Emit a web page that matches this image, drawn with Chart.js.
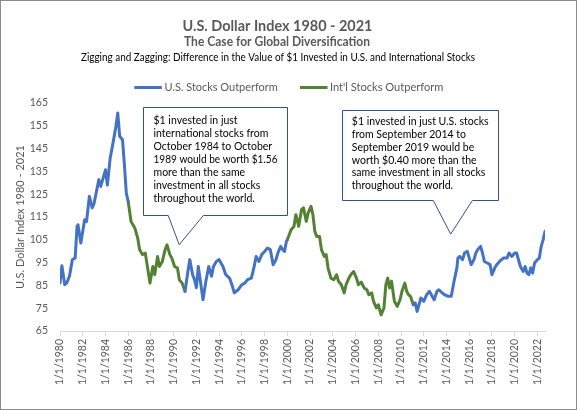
<!DOCTYPE html>
<html>
<head>
<meta charset="utf-8">
<script src="https://cdn.jsdelivr.net/npm/chart.js@4"></script>
<style>
html,body{margin:0;padding:0;background:#fff;}
#wrap{width:577px;height:410px;position:relative;}
canvas{display:block;}
</style>
</head>
<body>
<div id="wrap"><canvas id="c" width="577" height="410"></canvas></div>
<script>
// ---------- DATA ----------
const chartTitle = "U.S. Dollar Index 1980 - 2021";
const chartSubtitle = "The Case for Global Diversification";
const chartSubtitle2 = "Zigging and Zagging: Difference in the Value of $1 Invested in U.S. and International Stocks";
const seriesNames = ["U.S. Stocks Outperform", "Int'l Stocks Outperform"];
const yAxisTitle = "U.S. Dollar Index 1980 - 2021";

const dates = [
"1980-01","1980-03","1980-06","1980-08","1980-11","1981-02","1981-05","1981-07","1981-08","1981-11",
"1982-03","1982-05","1982-08","1982-11","1983-01","1983-06","1983-08","1984-01","1984-03","1984-06",
"1984-09","1984-12","1985-02","1985-04","1985-07","1985-09","1985-11","1986-01","1986-04","1986-08",
"1986-11","1987-01","1987-04","1987-07","1987-09","1987-12","1988-03","1988-05","1988-08","1988-10",
"1989-01","1989-04","1989-06","1989-09","1989-11","1990-02","1990-05","1990-07","1990-10","1991-01",
"1991-04","1991-06","1991-09","1991-11","1992-01","1992-03","1992-08","1992-11","1993-02","1993-05",
"1993-07","1993-10","1994-01","1994-05","1994-08","1994-12","1995-03","1995-05","1995-09","1996-01",
"1996-04","1996-07","1996-11","1997-02","1997-04","1997-07","1997-10","1998-01","1998-04","1998-07",
"1998-10","1999-01","1999-03","1999-06","1999-08","1999-10","1999-12","2000-01","2000-03","2000-05",
"2000-08","2000-10","2001-01","2001-04","2001-06","2001-09","2001-11","2002-02","2002-04","2002-06",
"2002-08","2002-11","2003-01","2003-04","2003-06","2003-08","2003-11","2004-02","2004-05","2004-07",
"2004-10","2005-01","2005-03","2005-06","2005-08","2005-11","2006-02","2006-04","2006-07","2006-10",
"2007-01","2007-03","2007-06","2007-08","2007-11","2008-01","2008-04","2008-07","2008-09","2008-11",
"2009-01","2009-03","2009-06","2009-09","2009-12","2010-02","2010-05","2010-07","2010-09","2010-11",
"2011-02","2011-04","2011-06","2011-08","2011-10","2012-01","2012-04","2012-07","2012-09","2012-12",
"2013-03","2013-05","2013-08","2013-11","2014-03","2014-06","2014-09","2014-12","2015-01","2015-03",
"2015-06","2015-08","2015-11","2016-03","2016-06","2016-08","2016-10","2017-01","2017-03","2017-05",
"2017-08","2017-11","2018-01","2018-04","2018-06","2018-09","2019-01","2019-03","2019-05","2019-07",
"2019-10","2020-01","2020-03","2020-07","2020-10","2020-12","2021-02","2021-04","2021-06","2021-08",
"2021-10","2022-01","2022-03","2022-05","2022-07","2022-09"
];

const indexValues = [
86,93.6,85.3,86,89,96.3,97,110.9,111.6,103.6,
113.8,113,124,119,121,131.4,128.4,135.7,129,140.9,
147.5,154.7,160.6,150.4,148.9,137.9,125.5,121.8,113,110.2,
105.8,100.7,98.5,99.2,94,86,93.3,89.7,97.7,93.3,
95.5,100.7,102.8,98.5,97,93.3,92.6,87.5,86,82.4,
91.1,96.3,89.7,87.5,84,93.3,78.7,86.8,93.3,89,
93.3,95.5,96.3,93.3,89.7,88.2,84.6,81.7,83.1,85.3,
86,87.5,88.2,93.3,97.7,95.5,98.5,99.9,101.4,100.7,
94.1,96.3,99.2,102.1,100.7,99.9,104.3,105,107.2,109.4,
110.9,116,110.9,118.2,119,113.1,116.8,119.7,116,108.7,
106.5,106.5,100.7,97.7,98.5,92.6,88.2,87.5,89.7,86.8,
85.3,81.7,85.3,88.2,89.7,91.1,88.2,85.3,86.5,83.9,
83.1,80.9,81.7,78,75.1,76.5,72.1,75.1,85.3,88.2,
83.9,86.8,78,75.8,78.7,82.4,86,82.4,80.9,80.2,
76.5,77.3,73.6,76.5,79.5,78,80.9,82.4,80.9,78.7,
82.4,83.1,81.9,80.9,80.2,80.2,86.8,92.7,97,97.7,
96.3,99.2,99.9,94.1,96.3,99.2,100.7,102.1,99.2,95.5,
94.8,94.1,89.7,92.7,94.1,95.5,97,97,97,99.2,
97.7,99.2,99.2,93.3,91.1,93.3,90.4,89.7,92.7,90.4,
94.8,96.3,97,102.1,105,108.7
];

// periods when international stocks outperformed (start, end)
const intlPeriodStarts = ["1986-01", "2000-01"];
const intlPeriodEnds   = ["1991-01", "2011-02"];

const yTickValues = [65, 75, 85, 95, 105, 115, 125, 135, 145, 155, 165];
const xTickYears = [1980,1982,1984,1986,1988,1990,1992,1994,1996,1998,2000,2002,2004,2006,2008,2010,2012,2014,2016,2018,2020,2022];

const callout1Lines = ["$1 invested in just","international stocks from","October 1984 to October","1989 would be worth $1.56","more than the same","investment in all stocks","throughout the world."];
const callout2Lines = ["$1 invested in just U.S. stocks","from September 2014 to","September 2019 would be","worth $0.40 more than the","same investment in all stocks","throughout the world."];

// ---------- BUILD ----------
function toYear(d){ const p=d.split('-'); return +p[0] + (+p[1]-1)/12; }
const xs = dates.map(toYear);
const starts = intlPeriodStarts.map(toYear), ends = intlPeriodEnds.map(toYear);
function inIntl(x, inclusive){
  for(let i=0;i<starts.length;i++){
    if(inclusive ? (x>=starts[i]-1e-6 && x<=ends[i]+1e-6) : (x>starts[i]+1e-6 && x<ends[i]-1e-6)) return true;
  }
  return false;
}
const usData = xs.map((x,i)=>({x, y: inIntl(x,false) ? null : indexValues[i]}));
const intlData = xs.map((x,i)=>({x, y: inIntl(x,true) ? indexValues[i] : null}));

const BLUE = '#4472C4', GREEN = '#548235', GREY = '#595959';
const FONT = 'Lato, "Open Sans", sans-serif';

// callouts anchored in data units (year, index value)
const callouts = [
  {lines: callout1Lines, x0:1987.32, x1:2000.0, yTop:163.25, yBot:116.0, b0:1989.52, b1:1992.61, tipX:1990.49, tipY:102.85, padL:10, first:12.7, step:13.05},
  {lines: callout2Lines, x0:2004.81, x1:2018.54, yTop:161.75, yBot:122.6, b0:2012.84, b1:2016.28, tipX:2014.37, tipY:107.5, padL:9.3, first:11.6, step:12.75}
];

const decor = {
  id: 'decor',
  beforeDraw(chart){
    const ctx = chart.ctx;
    ctx.save(); ctx.fillStyle = '#fff'; ctx.fillRect(0,0,chart.width,chart.height); ctx.restore();
  },
  afterDraw(chart){
    const ctx = chart.ctx, sx = chart.scales.x, sy = chart.scales.y;
    ctx.save();
    // titles
    ctx.textAlign = 'center'; ctx.textBaseline = 'alphabetic';
    ctx.fillStyle = GREY;
    ctx.font = 'bold 15px ' + FONT; ctx.fillText(chartTitle, 277.5, 31, 190);
    ctx.font = 'bold 12.5px ' + FONT; ctx.fillText(chartSubtitle, 277, 46, 186);
    ctx.fillStyle = '#000';
    ctx.font = '10.5px ' + FONT; ctx.fillText(chartSubtitle2, 278, 61, 394);
    // legend
    const legendItems = [{x:134.3, tx:164.5, w:113.3}, {x:300, tx:330, w:113.4}];
    chart.data.datasets.forEach((ds,i)=>{
      const L = legendItems[i];
      ctx.strokeStyle = ds.borderColor; ctx.lineWidth = 3; ctx.lineCap='butt';
      ctx.beginPath(); ctx.moveTo(L.x, 87.5); ctx.lineTo(L.x+27.5, 87.5); ctx.stroke();
      ctx.fillStyle = GREY; ctx.textAlign='left'; ctx.font = '11.5px ' + FONT;
      ctx.fillText(ds.label, L.tx, 91, L.w);
    });
    // callouts
    callouts.forEach(c=>{
      const l = Math.round(sx.getPixelForValue(c.x0))+0.5, r = Math.round(sx.getPixelForValue(c.x1))+0.5;
      const t = Math.round(sy.getPixelForValue(c.yTop))+0.5, b = Math.round(sy.getPixelForValue(c.yBot))+0.5;
      const b0 = sx.getPixelForValue(c.b0), b1 = sx.getPixelForValue(c.b1);
      const tx = sx.getPixelForValue(c.tipX), ty = sy.getPixelForValue(c.tipY);
      ctx.beginPath();
      ctx.moveTo(l,t); ctx.lineTo(r,t); ctx.lineTo(r,b); ctx.lineTo(b1,b); ctx.lineTo(tx,ty); ctx.lineTo(b0,b); ctx.lineTo(l,b); ctx.closePath();
      ctx.fillStyle = '#fff'; ctx.fill();
      ctx.strokeStyle = '#2F528F'; ctx.lineWidth = 1; ctx.lineJoin='miter'; ctx.stroke();
      ctx.fillStyle = '#000'; ctx.textAlign = 'left'; ctx.textBaseline = 'middle';
      ctx.font = '10.5px ' + FONT;
      const maxW = (r - l) - 2*c.padL;
      c.lines.forEach((s,k)=> ctx.fillText(s, l + c.padL, t + c.first + k*c.step, maxW));
    });
    // chart border
    ctx.strokeStyle = '#8a8a8a'; ctx.lineWidth = 1;
    ctx.strokeRect(0.5,0.5,chart.width-1,chart.height-1);
    ctx.restore();
  }
};

new Chart(document.getElementById('c'), {
  type: 'line',
  data: {
    datasets: [
      {label: seriesNames[0], data: usData, borderColor: BLUE, backgroundColor: BLUE, borderWidth: 3, borderJoinStyle: 'round', borderCapStyle: 'round', pointRadius: 0, tension: 0, spanGaps: false},
      {label: seriesNames[1], data: intlData, borderColor: GREEN, backgroundColor: GREEN, borderWidth: 3, borderJoinStyle: 'round', borderCapStyle: 'round', pointRadius: 0, tension: 0, spanGaps: false}
    ]
  },
  options: {
    responsive: false,
    animation: false,
    devicePixelRatio: 1,
    layout: {padding: {top: 103, right: 32, bottom: 0, left: 0}},
    plugins: {legend: {display: false}, title: {display: false}, tooltip: {enabled: false}},
    scales: {
      x: {
        type: 'linear',
        min: xs[0], max: xs[xs.length-1],
        afterBuildTicks(scale){ scale.ticks = xTickYears.map(v=>({value: v})); },
        afterFit(scale){ scale.height = 79; },
        ticks: {autoSkip: false, minRotation: 90, maxRotation: 90, padding: 3, color: GREY, font: {family: FONT, size: 10.5},
          callback: v => '1/1/' + v},
        grid: {display: true, drawOnChartArea: false, drawTicks: true, tickLength: 5, color: '#D9D9D9'},
        border: {display: true, color: '#D9D9D9'}
      },
      y: {
        type: 'linear',
        min: 65, max: 165,
        afterBuildTicks(scale){ scale.ticks = yTickValues.map(v=>({value: v})); },
        afterFit(scale){ scale.width = 60; },
        ticks: {padding: 12, color: GREY, font: {family: FONT, size: 10.5}},
        grid: {display: false, drawTicks: false},
        border: {display: false},
        title: {display: true, text: yAxisTitle, color: GREY, font: {family: FONT, size: 11}, padding: {top: 14}}
      }
    }
  },
  plugins: [decor]
});
</script>
</body>
</html>
